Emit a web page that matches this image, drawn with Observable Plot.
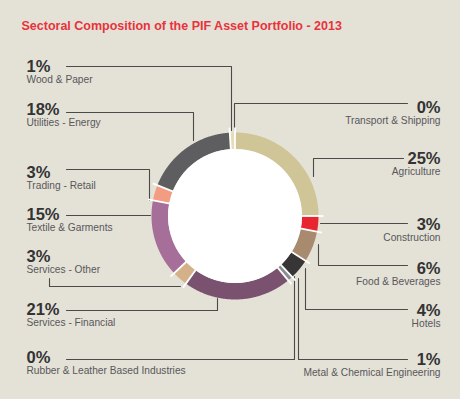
<!DOCTYPE html>
<html><head><meta charset="utf-8">
<script src="https://cdn.jsdelivr.net/npm/d3@7"></script>
<script src="https://cdn.jsdelivr.net/npm/@observablehq/plot@0.6"></script>
<style>
html,body{margin:0;padding:0;background:#e4e1d7;}
#chart{width:460px;height:399px;}
#chart svg{display:block;}
</style>
</head><body><div id="chart"></div>
<script>
// ---- data ----
const categories = ["Transport & Shipping","Agriculture","Construction","Food & Beverages","Hotels","Metal & Chemical Engineering","Rubber & Leather Based Industries","Services - Financial","Services - Other","Textile & Garments","Trading - Retail","Utilities - Energy","Wood & Paper"];
const values = [0,25,3,6,4,1,0,21,3,15,3,18,1];
const pctLabels = values.map(v => v + "%");
const title = "Sectoral Composition of the PIF Asset Portfolio - 2013";

// ---- styles ----
const colors = ["#f4efe0","#cfc596","#e8262f","#a88b6f","#373536","#8c8d92","#b9bdca","#7a5270","#d4b189","#a56f99","#f29c82","#5e5e61","#e6ddb6"];

// ---- label layout (side, percent baseline, leader path) ----
const labelSide = ["right","right","right","right","right","right","left","left","left","left","left","left","left"];
const labelBaseline = [112,163,229,273,315,364,362,314,261,219,177,114,71];
const leaderPaths = [
  [[407,103],[234,103],[234,130]],
  [[403,158],[313,158],[313,176]],
  [[407,223],[320,223]],
  [[407,265],[318,265],[318,244]],
  [[407,309],[305,309],[305,268]],
  [[407,359],[298,359],[298,278]],
  [[66,359],[294,359],[294,276]],
  [[66,310],[217,310],[217,298]],
  [[49,278],[49,286],[180,286]],
  [[66,215],[150,215]],
  [[66,169],[149,169],[149,200]],
  [[66,112],[193,112],[193,140]],
  [[66,66],[231,66],[231,130]]
];

// ---- geometry ----
const W = 460, H = 399;
const cx = 234.5, cy = 215.5, rIn = 67, rOut = 83.5, rMid = (rIn + rOut) / 2;
const total = d3.sum(values);
let acc = 0;
const slices = categories.map((c, i) => {
  const s = acc / total * 360; acc += values[i];
  return {c, s, e: acc / total * 360, color: colors[i]};
});
const rad = a => a * Math.PI / 180;
const arcPts = slices.flatMap(sl => {
  if (sl.e - sl.s <= 0) return [];
  const n = Math.max(2, Math.ceil((sl.e - sl.s) * 2) + 1);
  return d3.range(n).map(k => {
    const a = rad(sl.s + (sl.e - sl.s) * k / (n - 1));
    return {c: sl.c, color: sl.color, x: cx + rMid * Math.sin(a), y: cy - rMid * Math.cos(a)};
  });
});
const bounds = Array.from(new Set(slices.map(s => +s.s.toFixed(4))));
const seps = bounds.map(b => ({
  x1: cx + (rIn - 2) * Math.sin(rad(b)), y1: cy - (rIn - 2) * Math.cos(rad(b)),
  x2: cx + (rOut + 5) * Math.sin(rad(b)), y2: cy - (rOut + 5) * Math.cos(rad(b))
}));
const leaderPts = leaderPaths.flatMap((p, i) => p.map(([x, y]) => ({c: categories[i], x, y})));
const labels = categories.map((c, i) => ({
  c, pct: pctLabels[i], side: labelSide[i],
  x: labelSide[i] === "left" ? 26 : 440,
  y: labelBaseline[i]
}));
const leftLabels = labels.filter(d => d.side === "left");
const rightLabels = labels.filter(d => d.side === "right");

const font = "'Liberation Sans', Arial, Helvetica, sans-serif";
const pctOpts = anchor => ({x: "x", y: "y", text: "pct", textAnchor: anchor, lineAnchor: "bottom",
  fontSize: 16.5, fontWeight: "bold", fill: "#333333"});
const nameOpts = anchor => ({x: "x", y: d => d.y + 11.5, text: "c", textAnchor: anchor, lineAnchor: "bottom",
  fontSize: 10.2, fill: "#58585a"});

const chart = Plot.plot({
  width: W, height: H,
  margin: 0,
  style: {background: "#e4e1d7", fontFamily: font},
  x: {domain: [0, W], range: [0, W], axis: null},
  y: {domain: [0, H], range: [0, H], axis: null},
  color: {type: "identity"},
  r: {type: "identity"},
  marks: [
    Plot.line(leaderPts, {x: "x", y: "y", z: "c", stroke: "#4a4a48", strokeWidth: 1.1}),
    Plot.line(arcPts, {x: "x", y: "y", z: "c", stroke: "color", strokeWidth: rOut - rIn, strokeLinecap: "butt", strokeLinejoin: "round"}),
    Plot.dot([{x: cx, y: cy}], {x: "x", y: "y", r: rIn, fill: "white", stroke: "none"}),
    Plot.link(seps, {x1: "x1", y1: "y1", x2: "x2", y2: "y2", stroke: "white", strokeWidth: 1.8}),
    Plot.text(leftLabels, pctOpts("start")),
    Plot.text(rightLabels, pctOpts("end")),
    Plot.text(leftLabels, nameOpts("start")),
    Plot.text(rightLabels, nameOpts("end")),
    Plot.text([title], {x: () => 21, y: () => 29, text: d => d, textAnchor: "start", lineAnchor: "bottom",
      fontSize: 12.5, fontWeight: "bold", fill: "#e8333c"})
  ]
});
document.getElementById("chart").appendChild(chart);
</script>
</body></html>
